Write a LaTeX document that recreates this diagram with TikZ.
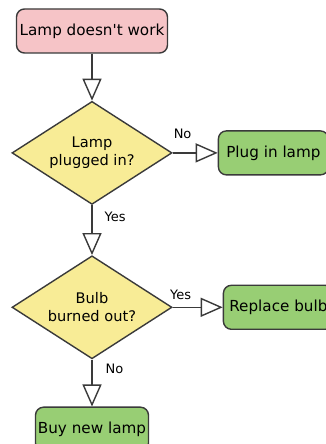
\documentclass[tikz,border=0pt]{standalone}
\usepackage{fontspec}
\setmainfont{DejaVu Sans}[Ligatures=TeXOff]
\usetikzlibrary{shapes.geometric,arrows.meta,positioning}

\definecolor{lamppink}{RGB}{246,196,199}
\definecolor{askyellow}{RGB}{248,236,150}
\definecolor{actgreen}{RGB}{152,206,116}
\definecolor{edgegray}{RGB}{58,58,58}

\begin{document}
\begin{tikzpicture}[
  x=1pt, y=1pt,
  block/.style={rectangle, draw=edgegray, line width=1.4pt, rounded corners=8pt,
                minimum width=#1, minimum height=44pt, inner sep=2pt,
                text centered, font=\fontsize{15.2}{18}\selectfont, fill=actgreen},
  block/.default={110pt},
  decision/.style={diamond, draw=edgegray, line width=1.4pt, fill=askyellow,
                   aspect=1.55, minimum width=160pt, minimum height=103pt,
                   inner sep=0pt, align=center, font=\fontsize{14.6}{18.5}\selectfont},
  arrow/.style={-{Triangle[length=22pt, width=19pt, fill=white]}, line width=1.4pt,
                draw=edgegray},
  note/.style={font=\fontsize{13}{15}\selectfont, inner sep=2pt},
  node distance=47pt
]
  \fill[white] (0,0) rectangle (326,444);
  \useasboundingbox (0,0) rectangle (326,444);

  \node[block=151pt, fill=lamppink] (broken) at (92,413) {Lamp doesn't work};
  \node[decision, below=of broken] (pluggedq) {Lamp\\plugged in?};
  \node[block, right=45pt of pluggedq] (plugin) {Plug in lamp};
  \node[decision, below=50pt of pluggedq] (bulbq) {Bulb\\burned out?};
  \node[block, right=50pt of bulbq] (replace) {Replace bulb};
  \node[block=113pt, below=of bulbq] (buynew) {Buy new lamp};

  \draw[arrow] (broken) -- (pluggedq);
  \draw[arrow] (pluggedq) -- node[note, pos=0.22, above=12pt]{No} (plugin);
  \draw[arrow] (pluggedq) -- node[note, pos=0.24, right=10pt]{Yes} (bulbq);
  \draw[arrow] (bulbq) -- node[note, pos=0.16, above=5pt]{Yes} (replace);
  \draw[arrow] (bulbq) -- node[note, pos=0.2, right=11pt]{No} (buynew);
\end{tikzpicture}
\end{document}
